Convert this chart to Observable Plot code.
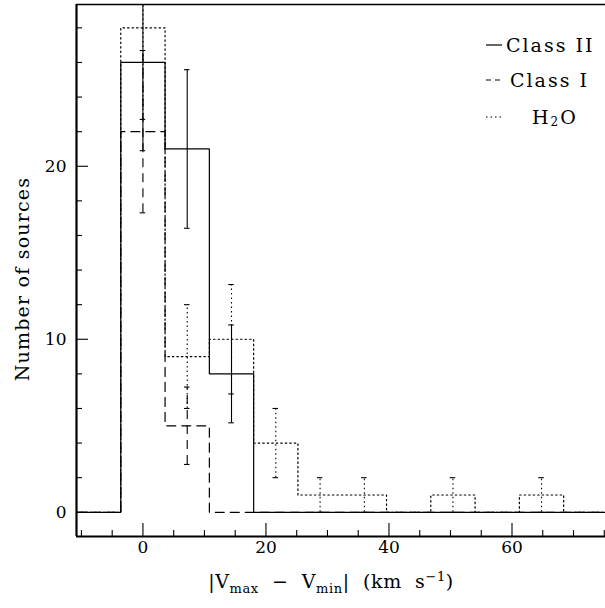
<!DOCTYPE html>
<html><head><meta charset="utf-8">
<script src="https://cdn.jsdelivr.net/npm/d3@7"></script>
<script src="https://cdn.jsdelivr.net/npm/@observablehq/plot@0.6"></script>
<style>body{margin:0;background:#fff} svg{display:block}</style>
</head><body><div id="chart"></div>
<script>
// ---- data ----
const binCenters = [0, 7.2, 14.4, 21.6, 28.8, 36, 43.2, 50.4, 57.6, 64.8];
const binWidth = 7.2;
const classII = [26, 21, 8, 0, 0, 0, 0, 0, 0, 0];
const classI  = [22, 5, 0, 0, 0, 0, 0, 0, 0, 0];
const h2o     = [28, 9, 10, 4, 1, 1, 0, 1, 0, 1];
const xDomain = [-10.8, 75.2];
const yDomain = [-1.4, 29.35];
const xMajor = [0, 20, 40, 60];
const xMinor = [-10, -5, 5, 10, 15, 25, 30, 35, 45, 50, 55, 65, 70, 75];
const yMajor = [0, 10, 20];
const yMinor = [2, 4, 6, 8, 12, 14, 16, 18, 22, 24, 26, 28];
const legendLabels = ["Class II", "Class I", "H"];

const W = 605, H = 608, mL = 76, mR = 0, mT = 4, mB = 72;
const innerW = W - mL - mR, innerH = H - mT - mB;
const FONT = "DejaVu Serif";

function steps(counts) {
  const pts = [{x: xDomain[0], y: 0}];
  binCenters.forEach((c, i) => pts.push({x: c - binWidth / 2, y: counts[i]}));
  pts.push({x: binCenters[binCenters.length - 1] + binWidth / 2, y: 0});
  pts.push({x: xDomain[1], y: 0});
  return pts;
}
function errs(counts) {
  return binCenters.map((c, i) => ({x: c, n: counts[i], lo: counts[i] - Math.sqrt(counts[i]), hi: counts[i] + Math.sqrt(counts[i])}))
    .filter(d => d.n > 0);
}
const series = [
  {counts: h2o, dash: "1.5,3"},
  {counts: classI, dash: "9,6"},
  {counts: classII, dash: null}
];
const cap = 0.45;
const marks = [];
for (const s of series) {
  const e = errs(s.counts);
  marks.push(Plot.line(steps(s.counts), {x: "x", y: "y", curve: "step-after", stroke: "#000", strokeWidth: 1.2, strokeDasharray: s.dash, clip: true}));
  marks.push(Plot.ruleX(e, {x: "x", y1: "lo", y2: "hi", stroke: "#000", strokeWidth: 1.1, strokeDasharray: s.dash, clip: true}));
  marks.push(Plot.ruleY(e, {y: "lo", x1: d => d.x - cap, x2: d => d.x + cap, stroke: "#000", strokeWidth: 1.1, clip: true}));
  marks.push(Plot.ruleY(e, {y: "hi", x1: d => d.x - cap, x2: d => d.x + cap, stroke: "#000", strokeWidth: 1.1, clip: true}));
}

const plot = Plot.plot({
  width: W, height: H,
  marginLeft: mL, marginRight: mR, marginTop: mT, marginBottom: mB,
  x: {domain: xDomain},
  y: {domain: yDomain},
  style: {fontFamily: FONT, fontSize: "17px", color: "#000", background: "#fff"},
  marks: [
    ...marks,
    Plot.tickX(xMajor, {x: d => d, insetTop: innerH - 13, stroke: "#000", strokeWidth: 1.1}),
    Plot.tickX(xMinor, {x: d => d, insetTop: innerH - 6, stroke: "#000", strokeWidth: 1.1}),
    Plot.tickY(yMajor, {y: d => d, insetRight: innerW - 12, stroke: "#000", strokeWidth: 1.1}),
    Plot.tickY(yMinor, {y: d => d, insetRight: innerW - 6, stroke: "#000", strokeWidth: 1.1}),
    Plot.axisX({ticks: xMajor, tickSize: 0, tickPadding: 4, label: null, fontSize: 17}),
    Plot.axisY({ticks: yMajor, tickSize: 0, tickPadding: 10, label: null, fontSize: 17}),
    Plot.ruleX([xDomain[0]], {stroke: "#000", strokeWidth: 2.2}),
    Plot.ruleY([yDomain[0]], {stroke: "#000", strokeWidth: 2.2}),
    Plot.ruleY([yDomain[1]], {stroke: "#000", strokeWidth: 1.6})
  ]
});
document.getElementById("chart").appendChild(plot);

const svg = d3.select(plot);
// x-axis label
const xl = svg.append("text").attr("x", 331).attr("y", 588).attr("text-anchor", "middle")
  .attr("font-family", FONT).attr("font-size", 19).attr("fill", "#000").style("white-space", "pre").attr("letter-spacing", 0.6);
xl.append("tspan").text("|V");
xl.append("tspan").attr("dy", 5).attr("font-size", 13).text("max");
xl.append("tspan").attr("dy", -5).text("  \u2212  V");
xl.append("tspan").attr("dy", 5).attr("font-size", 13).text("min");
xl.append("tspan").attr("dy", -5).text("|  (km  s");
xl.append("tspan").attr("dy", -7).attr("font-size", 13).text("\u22121");
xl.append("tspan").attr("dy", 7).text(")");
// y-axis label
svg.append("text").attr("transform", "translate(22,279) rotate(-90)").attr("text-anchor", "middle")
  .attr("dominant-baseline", "central").attr("font-family", FONT).attr("font-size", 19).attr("letter-spacing", 1.2)
  .attr("fill", "#000").text("Number of sources");
// legend
const leg = svg.append("g").attr("font-family", FONT).attr("font-size", 19).attr("fill", "#000").attr("text-anchor", "start");
const rows = [
  {y: 45, dash: null, tx: 506},
  {y: 80, dash: "5,4", tx: 510},
  {y: 117, dash: "1.5,3", tx: 532}
];
rows.forEach((r, i) => {
  leg.append("line").attr("x1", 486).attr("x2", 502).attr("y1", r.y).attr("y2", r.y)
    .attr("stroke", "#000").attr("stroke-width", 1.2).attr("stroke-dasharray", r.dash);
  const t = leg.append("text").attr("x", r.tx).attr("y", r.y).attr("dominant-baseline", "central")
    .attr("text-anchor", "start").attr("letter-spacing", 2).style("white-space", "pre");
  if (i < 2) t.text(legendLabels[i]);
  else {
    t.append("tspan").text(legendLabels[i]);
    t.append("tspan").attr("dy", 5).attr("font-size", 12).text("2");
    t.append("tspan").attr("dy", -5).text("O");
  }
});
</script></body></html>
